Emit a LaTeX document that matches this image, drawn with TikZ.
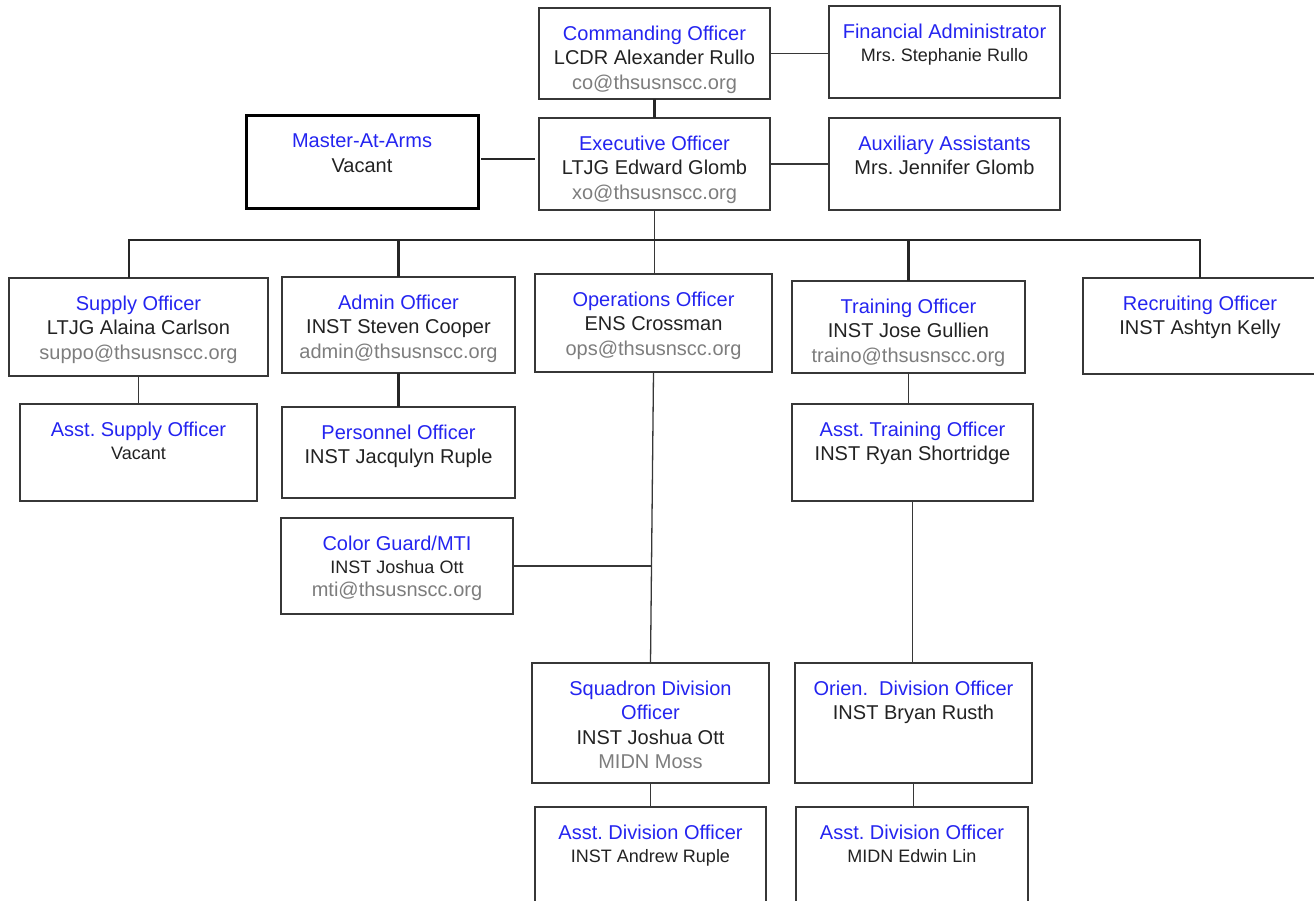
\documentclass[tikz,border=0pt]{standalone}
\usepackage{fontspec}
\setmainfont{Liberation Sans}
\usepackage{xcolor}
\usetikzlibrary{positioning,calc}
\definecolor{roleblue}{RGB}{36,36,240}
\definecolor{mailgray}{RGB}{125,125,125}
\definecolor{namegray}{RGB}{34,34,34}
\definecolor{boxgray}{RGB}{55,55,55}
\newcommand{\roletxt}[1]{\textcolor{roleblue}{#1}}
\newcommand{\mailtxt}[1]{\textcolor{mailgray}{#1}}
\newcommand{\smalltxt}[1]{{\fontsize{18}{24.5}\selectfont #1}}
\frenchspacing

\begin{document}
\begin{tikzpicture}[x=1pt, y=-1pt,
    box/.style={draw=boxgray, line width=1.3pt, inner sep=0pt, outer sep=0pt},
    txt/.style={align=center, inner sep=0pt, text=namegray, font=\fontsize{20}{24.5}\selectfont},
    thinlink/.style={draw=boxgray, line width=1.3pt},
    heavylink/.style={draw=black!85, line width=2.8pt}]
    \useasboundingbox (0,0) rectangle (1314,901);
    \clip (0,0) rectangle (1314,901);

    % Command
    \node[box, minimum width=231pt, minimum height=91pt] (co) at (654.5,53.5) {};
    \node[txt, below=17.7pt of co.north] (co-txt) {\roletxt{Commanding Officer}\\LCDR Alexander Rullo\\\mailtxt{co@thsusnscc.org}};
    \node[box, minimum width=231pt, minimum height=92pt] (fin) at (944.5,52) {};
    \node[txt, below=17.7pt of fin.north] (fin-txt) {\roletxt{Financial Administrator}\\[-1.5pt]\smalltxt{Mrs. Stephanie Rullo}};
    \node[box, minimum width=231pt, minimum height=92pt] (xo) at (654.5,164) {};
    \node[txt, below=17.7pt of xo.north] (xo-txt) {\roletxt{Executive Officer}\\LTJG Edward Glomb\\\mailtxt{xo@thsusnscc.org}};
    \node[box, draw=black, line width=3pt, minimum width=232pt, minimum height=93pt] (maa) at (362,162.5) {};
    \node[txt, below=17.7pt of maa.north] (maa-txt) {\roletxt{Master-At-Arms}\\Vacant};
    \node[box, minimum width=231pt, minimum height=92pt] (aux) at (944.5,164) {};
    \node[txt, below=17.7pt of aux.north] (aux-txt) {\roletxt{Auxiliary Assistants}\\Mrs. Jennifer Glomb};

    % Department heads
    \node[box, minimum width=259pt, minimum height=98pt] (supply) at (138.5,327) {};
    \node[txt, below=17.7pt of supply.north] (supply-txt) {\roletxt{Supply Officer}\\LTJG Alaina Carlson\\\mailtxt{suppo@thsusnscc.org}};
    \node[box, minimum width=233pt, minimum height=96pt] (admin) at (398.5,325) {};
    \node[txt, below=17.7pt of admin.north] (admin-txt) {\roletxt{Admin Officer}\\INST Steven Cooper\\\mailtxt{admin@thsusnscc.org}};
    \node[box, minimum width=237pt, minimum height=98pt] (ops) at (653.5,323) {};
    \node[txt, below=17.7pt of ops.north] (ops-txt) {\roletxt{Operations Officer}\\ENS Crossman\\\mailtxt{ops@thsusnscc.org}};
    \node[box, minimum width=233pt, minimum height=92pt] (training) at (908.5,327) {};
    \node[txt, below=17.7pt of training.north] (training-txt) {\roletxt{Training Officer}\\INST Jose Gullien\\\mailtxt{traino@thsusnscc.org}};
    \node[box, minimum width=234pt, minimum height=96pt] (recruit) at (1200,326) {};
    \node[txt, below=17.7pt of recruit.north] (recruit-txt) {\roletxt{Recruiting Officer}\\INST Ashtyn Kelly};

    % Assistants
    \node[box, minimum width=237pt, minimum height=97pt] (asupply) at (138.5,452.5) {};
    \node[txt, below=17.7pt of asupply.north] (asupply-txt) {\roletxt{Asst. Supply Officer}\\[-1.5pt]\smalltxt{Vacant}};
    \node[box, minimum width=233pt, minimum height=91pt] (personnel) at (398.5,452.5) {};
    \node[txt, below=17.7pt of personnel.north] (personnel-txt) {\roletxt{Personnel Officer}\\INST Jacqulyn Ruple};
    \node[box, minimum width=232pt, minimum height=96pt] (cg) at (397,566) {};
    \node[txt, below=17.7pt of cg.north] (cg-txt) {\roletxt{Color Guard/MTI}\\[-1.5pt]\smalltxt{INST Joshua Ott}\\[-1.5pt]\mailtxt{mti@thsusnscc.org}};
    \node[box, minimum width=241pt, minimum height=97pt] (atrain) at (912.5,452.5) {};
    \node[txt, below=17.7pt of atrain.north] (atrain-txt) {\roletxt{Asst. Training Officer}\\INST Ryan Shortridge};

    % Divisions
    \node[box, minimum width=237pt, minimum height=120pt] (sqd) at (650.5,723) {};
    \node[txt, below=17.7pt of sqd.north] (sqd-txt) {\roletxt{Squadron Division}\\\roletxt{Officer}\\INST Joshua Ott\\\mailtxt{MIDN Moss}};
    \node[box, minimum width=237pt, minimum height=120pt] (orien) at (913.5,723) {};
    \node[txt, below=17.7pt of orien.north] (orien-txt) {\roletxt{Orien.\ \ Division Officer}\\INST Bryan Rusth};
    \node[box, minimum width=231pt, minimum height=153pt] (ad1) at (650.5,883.5) {};
    \node[txt, below=17.7pt of ad1.north] (ad1-txt) {\roletxt{Asst. Division Officer}\\[-1.5pt]\smalltxt{INST Andrew Ruple}};
    \node[box, minimum width=232pt, minimum height=153pt] (ad2) at (912,883.5) {};
    \node[txt, below=17.7pt of ad2.north] (ad2-txt) {\roletxt{Asst. Division Officer}\\[-1.5pt]\smalltxt{MIDN Edwin Lin}};

    % Bus and joints
    \coordinate (busl) at (129,240);
    \coordinate (busr) at (1200,240);
    \coordinate (maajoin) at (481,159);
    \coordinate (cgjoin) at (652,566);

    % Connectors
    \draw[heavylink] (co) -- (xo);
    \draw[thinlink] (co.east) -- (co.east -| fin.west);
    \draw[thinlink] (xo.east) -- (aux.west);
    \draw[heavylink, shorten >=4pt] (maajoin) -- (maajoin -| xo.west);
    \draw[thinlink] (xo.south) -- (xo.south |- ops.north);
    \draw[heavylink] (busl |- supply.north) -- (busl) -- (busr) -- (recruit.north);
    \draw[heavylink] (busl -| admin.north) -- (admin.north);
    \draw[heavylink] (busl -| training.north) -- (training.north);
    \draw[thinlink] (supply) -- (asupply);
    \draw[heavylink] (admin) -- (personnel);
    \draw[thinlink] (training.south) -- (training.south |- atrain.north);
    \draw[thinlink] (ops.south) -- (sqd.north);
    \draw[thinlink] (cg.east) -- (cgjoin);
    \draw[thinlink] (sqd) -- (ad1);
    \draw[thinlink] (atrain.south) -- (atrain.south |- orien.north);
    \draw[thinlink] (orien.south) -- (orien.south |- ad2.north);
\end{tikzpicture}
\end{document}
